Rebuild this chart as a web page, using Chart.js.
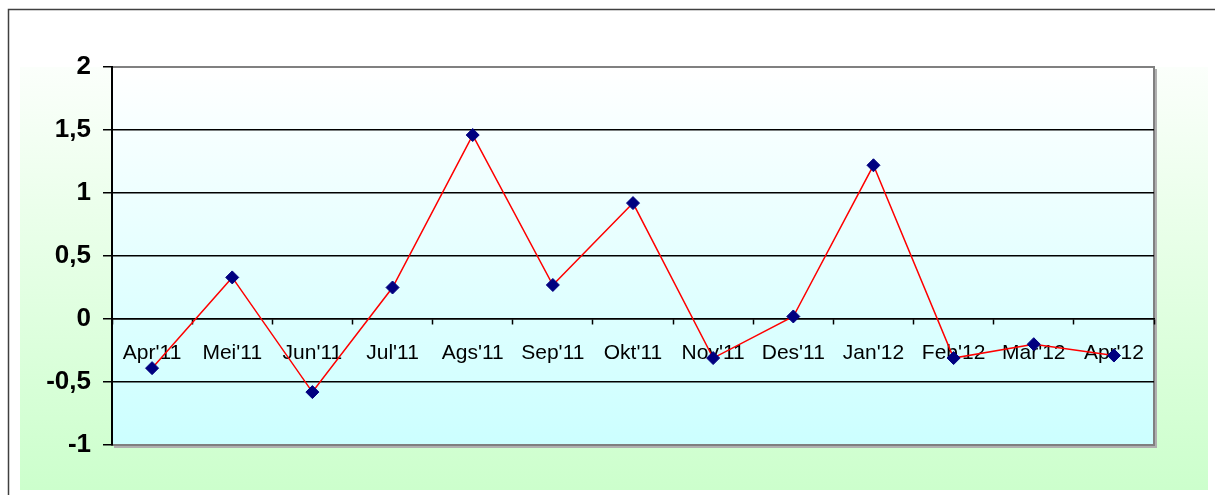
<!DOCTYPE html>
<html>
<head>
<meta charset="utf-8">
<script src="https://cdn.jsdelivr.net/npm/chart.js@4/dist/chart.umd.min.js"></script>
<style>
html,body{margin:0;padding:0;background:#fff;}
#wrap{width:1215px;height:495px;position:relative;}
</style>
</head>
<body>
<div id="wrap"><canvas id="c" width="1215" height="495"></canvas></div>
<script>
const categories = ["Apr'11","Mei'11","Jun'11","Jul'11","Ags'11","Sep'11","Okt'11","Nov'11","Des'11","Jan'12","Feb'12","Mar'12","Apr'12"];
const values = [-0.39, 0.33, -0.58, 0.25, 1.46, 0.27, 0.92, -0.31, 0.02, 1.22, -0.31, -0.20, -0.29];
const yMin = -1, yMax = 2, yStep = 0.5;

const backgroundPlugin = {
  id: 'bg',
  beforeDraw(chart) {
    const ctx = chart.ctx;
    const ca = chart.chartArea;
    ctx.save();
    ctx.fillStyle = '#ffffff';
    ctx.fillRect(0, 0, chart.width, chart.height);
    // outer frame
    ctx.strokeStyle = '#404040';
    ctx.lineWidth = 1.5;
    ctx.strokeRect(8.5, 9.5, chart.width + 20, chart.height + 20);
    // green gradient band
    const g = ctx.createLinearGradient(0, ca.top, 0, 490);
    g.addColorStop(0, '#fbfffb');
    g.addColorStop(1, '#ccffcc');
    ctx.fillStyle = g;
    ctx.fillRect(20, ca.top, 1188, 490 - ca.top);
    // plot area shadow
    ctx.fillStyle = '#b0b0b0';
    ctx.fillRect(ca.left + 2, ca.top + 2, ca.right - ca.left + 1, ca.bottom - ca.top + 1);
    // plot area gradient
    const p = ctx.createLinearGradient(0, ca.top, 0, ca.bottom);
    p.addColorStop(0, '#ffffff');
    p.addColorStop(1, '#ccffff');
    ctx.fillStyle = p;
    ctx.fillRect(ca.left, ca.top, ca.right - ca.left, ca.bottom - ca.top);
    ctx.strokeStyle = '#808080';
    ctx.lineWidth = 2;
    ctx.strokeRect(ca.left, ca.top, ca.right - ca.left, ca.bottom - ca.top);
    ctx.restore();
  }
};

new Chart(document.getElementById('c'), {
  type: 'line',
  data: {
    labels: categories,
    datasets: [{
      data: values,
      borderColor: '#ff0000',
      borderWidth: 1.5,
      pointStyle: 'rectRot',
      pointRadius: 6.5,
      pointBackgroundColor: '#000080',
      pointBorderColor: '#000080',
      pointBorderWidth: 1,
      tension: 0,
      clip: false
    }]
  },
  options: {
    responsive: false,
    animation: false,
    events: [],
    layout: { padding: { left: 0, right: 61, top: 67, bottom: 50 } },
    plugins: { legend: { display: false }, tooltip: { enabled: false } },
    scales: {
      x: {
        type: 'category',
        offset: true,
        position: { y: 0 },
        afterFit(s) { s.height = 0; },
        grid: { drawOnChartArea: false, offset: true, color: '#000', tickLength: 5, tickWidth: 1.5 },
        border: { display: true, color: '#000', width: 1.5 },
        ticks: {
          color: '#000',
          font: { family: 'Arial, "Liberation Sans", sans-serif', size: 21 },
          padding: 17,
          maxRotation: 0,
          autoSkip: false
        }
      },
      y: {
        min: yMin,
        max: yMax,
        afterFit(s) { s.width = 112; },
        grid: {
          color: (c) => (c.tick && (c.tick.value === yMax || c.tick.value === yMin)) ? '#808080' : '#000',
          tickColor: '#000',
          lineWidth: 1.5,
          tickLength: 9
        },
        border: { display: true, color: '#000', width: 2 },
        ticks: {
          stepSize: yStep,
          color: '#000',
          padding: 12,
          font: { family: 'Arial, "Liberation Sans", sans-serif', size: 26, weight: 'bold' },
          callback: (v) => String(v).replace('.', ',')
        }
      }
    }
  },
  plugins: [backgroundPlugin]
});
</script>
</body>
</html>
